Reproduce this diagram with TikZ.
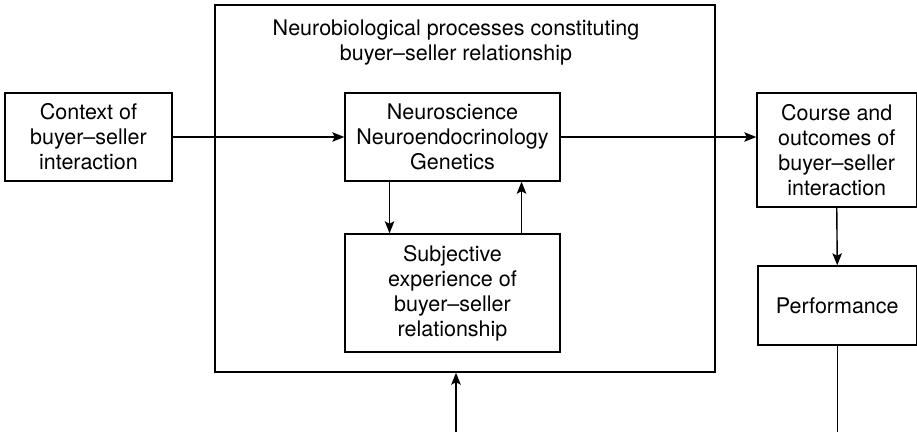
\documentclass[tikz,border=0pt]{standalone}
\usepackage{fontspec}
\setmainfont{TeX Gyre Heros}
\usetikzlibrary{arrows.meta,calc}

\tikzset{
  box/.style={draw, line width=1.4pt, rectangle, align=center, inner sep=0pt,
              font=\fontsize{21.5}{25}\selectfont},
  label/.style={align=center, inner sep=0pt, font=\fontsize{21.5}{25}\selectfont},
  link/.style={line width=1.4pt, -{Stealth[length=12pt,width=9.5pt,inset=2.5pt]}},
  plain/.style={line width=1.4pt}
}

\begin{document}
\begin{tikzpicture}[x=1pt,y=-1pt]
  \useasboundingbox (0,0) rectangle (917,432);

  % outer frame of the neurobiological processes
  \node[box, minimum width=500pt, minimum height=367pt] (big) at (465,188.5) {};
  \node[label] (title) at (456,43) {Neurobiological processes constituting\\buyer--seller relationship};

  % boxes
  \node[box, minimum width=167pt, minimum height=88pt] (ctx) at (88.5,137)
    {Context of\\buyer--seller\\interaction};
  \node[box, minimum width=215pt, minimum height=88pt] (neuro) at (452.5,137)
    {Neuroscience\\Neuroendocrinology\\Genetics};
  \node[box, minimum width=215pt, minimum height=118pt] (subj) at (452.5,293)
    {Subjective\\experience of\\buyer--seller\\relationship};
  \node[box, minimum width=159.5pt, minimum height=114pt] (course) at (836.75,150)
    {Course and\\outcomes of\\buyer--seller\\interaction};
  \node[box, minimum width=158.5pt, minimum height=79pt] (perf) at (837.25,305.5)
    {Performance};

  % free ends at the lower edge
  \coordinate (feed) at (456,432);
  \coordinate (perfend) at (perf.south |- 0,432);

  % connectors
  \draw[link] (ctx.east) -- (neuro.west);
  \draw[link] (neuro.east) -- (neuro.east -| course.west);
  \draw[link] ($(neuro.south west)!0.209!(neuro.south east)$) --
              ($(subj.north west)!0.209!(subj.north east)$);
  \draw[link] ($(subj.north west)!0.819!(subj.north east)$) --
              ($(neuro.south west)!0.819!(neuro.south east)$);
  \draw[link] (course.south) -- (perf.north);
  \draw[plain] (perf.south) -- (perfend);
  \draw[link] (feed) -- (feed |- big.south);
\end{tikzpicture}
\end{document}
